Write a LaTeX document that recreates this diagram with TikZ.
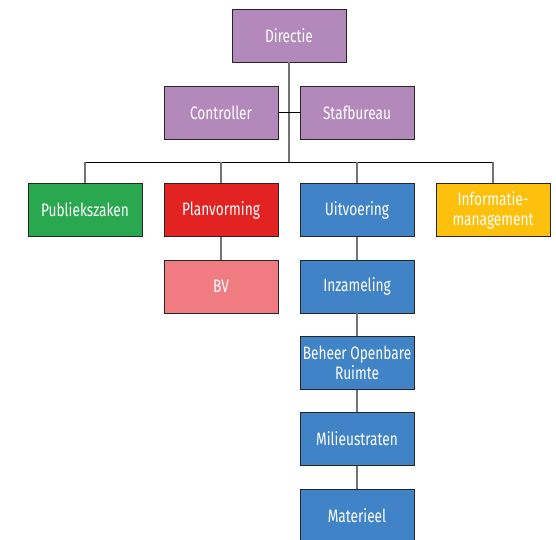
\documentclass[tikz,border=0pt]{standalone}
\usepackage{fontspec}
\setmainfont[FakeStretch=0.76]{Fira Sans}
\usetikzlibrary{positioning}

\definecolor{dirpurple}{HTML}{B389BC}
\definecolor{pubgreen}{HTML}{2AA84F}
\definecolor{planred}{HTML}{E32322}
\definecolor{bvpink}{HTML}{F07C82}
\definecolor{uitblue}{HTML}{4083C6}
\definecolor{infoyellow}{HTML}{FDC00D}

\begin{document}
\begin{tikzpicture}[x=1pt,y=-1pt,
  unit/.style={draw=black!85,line width=0.8pt,minimum width=114pt,minimum height=53pt,
    text=white,align=center,inner sep=2pt,font=\fontsize{18}{20}\selectfont},
  link/.style={draw=black!55,line width=1.3pt},
  bus/.style={draw=black,line width=0.7pt}]
\useasboundingbox (0,0) rectangle (556,539);

% Top level
\node[unit,fill=dirpurple] (dir) at (289,35.5) {Directie};
\node[unit,fill=dirpurple] (ctrl) at (221,112.5) {Controller};
\node[unit,fill=dirpurple] (staf) at (357,112.5) {Stafbureau};

% Departments
\node[unit,fill=pubgreen] (pub) at (85,210) {Publiekszaken};
\node[unit,fill=planred] (plan) at (221,210) {Planvorming};
\node[unit,fill=uitblue] (uit) at (357,210) {Uitvoering};
\node[unit,fill=infoyellow] (info) at (493,210) {Informatie-\\management};

% Sub units
\node[unit,fill=bvpink] (bv) at (221,286.5) {BV};
\node[unit,fill=uitblue] (inz) at (357,286.5) {Inzameling};
\node[unit,fill=uitblue] (bor) at (357,363) {Beheer Openbare\\Ruimte};
\node[unit,fill=uitblue] (mil) at (357,439) {Milieustraten};
\node[unit,fill=uitblue] (mat) at (357,515.5) {Materieel};

% Connectors
\coordinate (busL) at (85,162);
\coordinate (busR) at (493,162);
\draw[link] (dir.south) -- (dir.south |- busL);
\draw[bus] (ctrl.east) -- (staf.west);
\draw[bus] (busL) -- (busR);
\draw[link] (busL) -- (pub.north);
\draw[link] (plan.north |- busL) -- (plan.north);
\draw[link] (uit.north |- busL) -- (uit.north);
\draw[link] (busR) -- (info.north);
\draw[link] (plan) -- (bv);
\draw[link] (uit) -- (inz);
\draw[link] (inz) -- (bor);
\draw[link] (bor) -- (mil);
\draw[link] (mil) -- (mat);
\end{tikzpicture}
\end{document}
